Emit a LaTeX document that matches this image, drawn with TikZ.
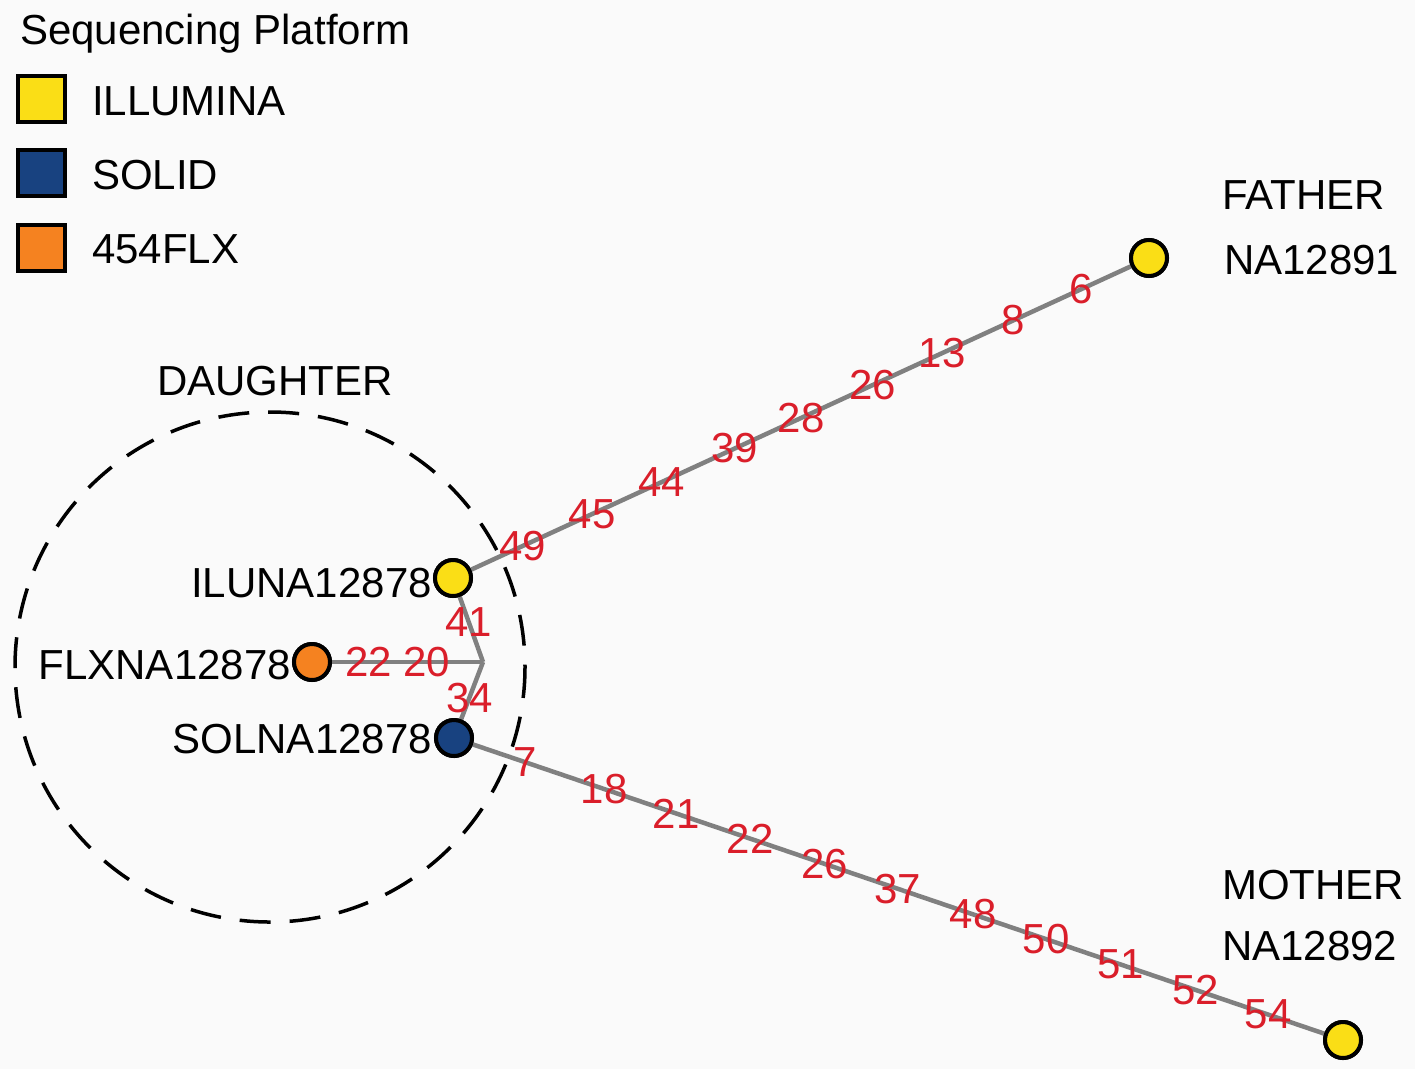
\documentclass[tikz,border=0pt]{standalone}
\usepackage{fontspec}
\setmainfont{Liberation Sans}
\usetikzlibrary{calc}
\definecolor{bgc}{RGB}{250,250,250}
\definecolor{ylw}{RGB}{250,222,22}
\definecolor{blu}{RGB}{24,66,128}
\definecolor{org}{RGB}{245,130,32}
\definecolor{redl}{RGB}{218,30,42}
\definecolor{edgec}{RGB}{128,128,128}
\tikzset{
  dot/.style={circle, draw=black, line width=4pt, minimum size=36pt, inner sep=0pt},
  legbox/.style={rectangle, draw=black, line width=4pt, minimum width=47pt, minimum height=46pt, inner sep=0pt},
  edge/.style={draw=edgec, line width=4.5pt},
  lbl/.style={text=redl, inner sep=0pt, font=\fontsize{42}{50}\selectfont},
  txt/.style={inner sep=0pt, font=\fontsize{42}{50}\selectfont},
  ring/.style={draw=black, line width=3.5pt, dash pattern=on 31pt off 19pt}
}
\begin{document}
\begin{tikzpicture}[x=1pt,y=-1pt]
\fill[bgc] (0,0) rectangle (1415,1069);
\useasboundingbox (0,0) rectangle (1415,1069);

% legend
\node[txt, anchor=base west] (legtitle) at (20,44) {Sequencing Platform};
\node[legbox, fill=ylw] (legy) at (41,99) {};
\node[legbox, fill=blu] (legb) at (41,173) {};
\node[legbox, fill=org] (lego) at (41,248) {};
\node[txt, anchor=base west] (legyt) at (92,115) {ILLUMINA};
\node[txt, anchor=base west] (legbt) at (92,189) {SOLID};
\node[txt, anchor=base west] (legot) at (92,263) {454FLX};

% daughter ring
\draw[ring] (270,667) circle (255);
\node[txt, anchor=base] (daut) at (275,395) {DAUGHTER};

% nodes
\node[dot, fill=ylw] (ilu) at (453,578) {};
\node[dot, fill=org] (flx) at (312,662) {};
\node[dot, fill=blu] (sol) at (454,738) {};
\node[dot, fill=ylw] (father) at (1149,258) {};
\node[dot, fill=ylw] (mother) at (1343,1040) {};
\coordinate (j) at (483,662);

% node texts
\node[txt, anchor=base east] (ilut) at (432,597) {ILUNA12878};
\node[txt, anchor=base east] (flxt) at (291,679) {FLXNA12878};
\node[txt, anchor=base east] (solt) at (432,753) {SOLNA12878};
\node[txt, anchor=base west] (fat1) at (1222,209) {FATHER};
\node[txt, anchor=base west] (fat2) at (1224,274) {NA12891};
\node[txt, anchor=base west] (mot1) at (1222,899) {MOTHER};
\node[txt, anchor=base west] (mot2) at (1222,960) {NA12892};

% edges
\draw[edge] (ilu) -- (father);
\draw[edge] (sol) -- (mother);
\draw[edge] (ilu) -- (j);
\draw[edge] (sol) -- (j);
\draw[edge] (flx) -- (j);

% redraw nodes on top
\node[dot, fill=ylw] at (ilu) {};
\node[dot, fill=org] at (flx) {};
\node[dot, fill=blu] at (sol) {};
\node[dot, fill=ylw] at (father) {};
\node[dot, fill=ylw] at (mother) {};

% edge labels
\path (ilu.center) -- (father.center)
  node[lbl, pos=0.10] (f1) {49}
  node[lbl, pos=0.20] (f2) {45}
  node[lbl, pos=0.30] (f3) {44}
  node[lbl, pos=0.405] (f4) {39}
  node[lbl, pos=0.50] (f5) {28}
  node[lbl, pos=0.603] (f6) {26}
  node[lbl, pos=0.703] (f7) {13}
  node[lbl, pos=0.805] (f8) {8}
  node[lbl, pos=0.902] (f9) {6};
\path (sol.center) -- (mother.center)
  node[lbl, pos=0.080] (m1) {7}
  node[lbl, pos=0.169] (m2) {18}
  node[lbl, pos=0.250] (m3) {21}
  node[lbl, pos=0.333] (m4) {22}
  node[lbl, pos=0.417] (m5) {26}
  node[lbl, pos=0.499] (m6) {37}
  node[lbl, pos=0.584] (m7) {48}
  node[lbl, pos=0.666] (m8) {50}
  node[lbl, pos=0.750] (m9) {51}
  node[lbl, pos=0.834] (m10) {52}
  node[lbl, pos=0.916] (m11) {54};
\path (ilu.center) -- (j) node[lbl, pos=0.52] (s1) {41};
\path (sol.center) -- (j) node[lbl, pos=0.53] (s2) {34};
\path (flx.center) -- (j)
  node[lbl, pos=0.33] (s3) {22}
  node[lbl, pos=0.67] (s4) {20};
\end{tikzpicture}
\end{document}
